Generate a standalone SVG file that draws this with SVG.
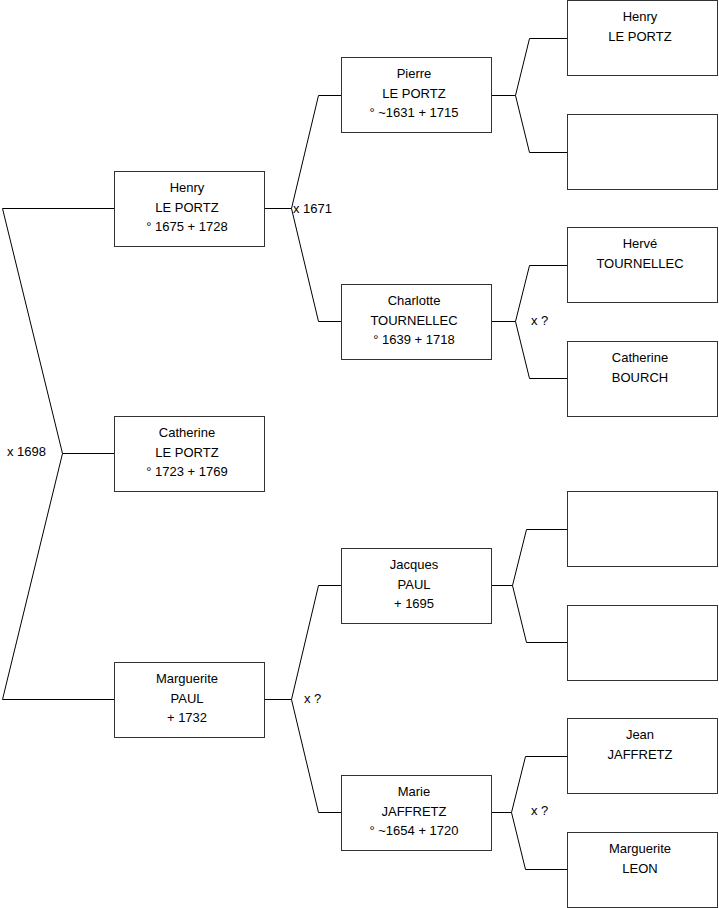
<svg xmlns="http://www.w3.org/2000/svg" width="719" height="908" viewBox="0 0 719 908">
<style>
.box{fill:#fff;stroke:#333;stroke-width:1}
.ln{fill:none;stroke:#000;stroke-width:1}
text{font-family:"Liberation Sans",Arial,sans-serif;font-size:13px;fill:#000}
.c{text-anchor:middle}
</style>
<rect width="719" height="908" fill="#fff"/>
<g id="connectors">
<path class="ln" d="M114,208.5H2.5L62.5,453.5H114M62.5,453.5L2.5,699.5H114"/>
<path class="ln" d="M265,208.5H291.5L318.5,95.5H341M291.5,208.5L318.5,321.5H341"/>
<path class="ln" d="M265,699.5H291.5L318.5,585.5H341M291.5,699.5L318.5,812.5H341"/>
<path class="ln" d="M492,95.5H515.5L529.5,38.5H567M515.5,95.5L529.5,152.5H567"/>
<path class="ln" d="M492,321.5H515.5L529.5,265.5H567M515.5,321.5L529.5,378.5H567"/>
<path class="ln" d="M492,585.5H512.5L526.5,529.5H567M512.5,585.5L526.5,642.5H567"/>
<path class="ln" d="M492,812.5H511.5L525.5,756.5H567M511.5,812.5L525.5,869.5H567"/>
<text x="7" y="456">x 1698</text>
<text x="293" y="213">x 1671</text>
<text x="304" y="703">x ?</text>
<text x="531" y="325">x ?</text>
<text x="531" y="815">x ?</text>
</g>
<g id="n1"><rect class="box" x="114.5" y="171.5" width="150" height="75"/><text class="c" x="187" y="192">Henry</text><text class="c" x="187" y="211.5">LE PORTZ</text><text class="c" x="187" y="231">° 1675 + 1728</text></g>
<g id="n2"><rect class="box" x="114.5" y="416.5" width="150" height="75"/><text class="c" x="187" y="437">Catherine</text><text class="c" x="187" y="456.5">LE PORTZ</text><text class="c" x="187" y="476">° 1723 + 1769</text></g>
<g id="n3"><rect class="box" x="114.5" y="662.5" width="150" height="75"/><text class="c" x="187" y="683">Marguerite</text><text class="c" x="187" y="702.5">PAUL</text><text class="c" x="187" y="722">+ 1732</text></g>
<g id="n4"><rect class="box" x="341.5" y="57.5" width="150" height="75"/><text class="c" x="414" y="78">Pierre</text><text class="c" x="414" y="97.5">LE PORTZ</text><text class="c" x="414" y="117">° ~1631 + 1715</text></g>
<g id="n5"><rect class="box" x="341.5" y="284.5" width="150" height="75"/><text class="c" x="414" y="305">Charlotte</text><text class="c" x="414" y="324.5">TOURNELLEC</text><text class="c" x="414" y="344">° 1639 + 1718</text></g>
<g id="n6"><rect class="box" x="341.5" y="548.5" width="150" height="75"/><text class="c" x="414" y="569">Jacques</text><text class="c" x="414" y="588.5">PAUL</text><text class="c" x="414" y="608">+ 1695</text></g>
<g id="n7"><rect class="box" x="341.5" y="775.5" width="150" height="75"/><text class="c" x="414" y="796">Marie</text><text class="c" x="414" y="815.5">JAFFRETZ</text><text class="c" x="414" y="835">° ~1654 + 1720</text></g>
<g id="n8"><rect class="box" x="567.5" y="0.5" width="150" height="75"/><text class="c" x="640" y="21">Henry</text><text class="c" x="640" y="40.5">LE PORTZ</text></g>
<g id="n9"><rect class="box" x="567.5" y="114.5" width="150" height="75"/></g>
<g id="n10"><rect class="box" x="567.5" y="227.5" width="150" height="75"/><text class="c" x="640" y="248">Hervé</text><text class="c" x="640" y="267.5">TOURNELLEC</text></g>
<g id="n11"><rect class="box" x="567.5" y="341.5" width="150" height="75"/><text class="c" x="640" y="362">Catherine</text><text class="c" x="640" y="381.5">BOURCH</text></g>
<g id="n12"><rect class="box" x="567.5" y="491.5" width="150" height="75"/></g>
<g id="n13"><rect class="box" x="567.5" y="605.5" width="150" height="75"/></g>
<g id="n14"><rect class="box" x="567.5" y="718.5" width="150" height="75"/><text class="c" x="640" y="739">Jean</text><text class="c" x="640" y="758.5">JAFFRETZ</text></g>
<g id="n15"><rect class="box" x="567.5" y="832.5" width="150" height="75"/><text class="c" x="640" y="853">Marguerite</text><text class="c" x="640" y="872.5">LEON</text></g>
</svg>
